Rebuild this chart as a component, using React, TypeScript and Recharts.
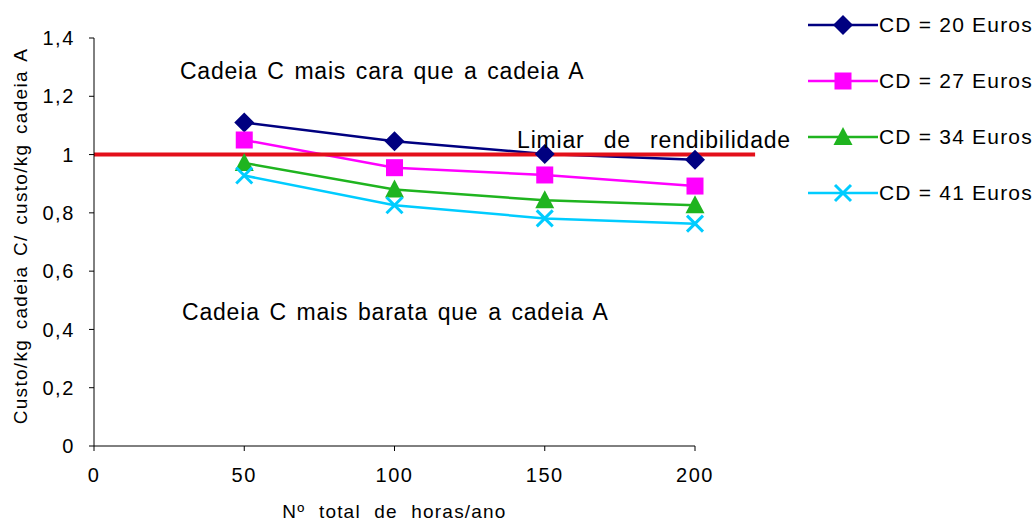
import { LineChart, Line, XAxis, YAxis, ReferenceLine, ReferenceDot } from 'recharts';

const hours = [50, 100, 150, 200];
const cd20 = [1.11, 1.046, 1.002, 0.982];
const cd27 = [1.05, 0.955, 0.93, 0.892];
const cd34 = [0.971, 0.88, 0.843, 0.826];
const cd41 = [0.928, 0.826, 0.781, 0.763];

const xTicks = [0, 50, 100, 150, 200];
const yTicks = [0, 0.2, 0.4, 0.6, 0.8, 1, 1.2, 1.4];

// break-even line runs a little past the last category, like the original
const threshold = 1;
const thresholdEnd = 220;

const notes = [
  { text: 'Cadeia C mais cara que a cadeia A', x: 28.6, y: 1.289, ws: 2.5 },
  { text: 'Cadeia C mais barata que a cadeia A', x: 29.3, y: 0.459, ws: 2.5 },
  { text: 'Limiar de rendibilidade', x: 140.8, y: 1.052, ws: 12 },
];

const data = hours.map((h, i) => ({
  h,
  cd20: cd20[i],
  cd27: cd27[i],
  cd34: cd34[i],
  cd41: cd41[i],
}));

const series = [
  { key: 'cd20', name: 'CD = 20 Euros', color: '#000080', shape: 'diamond' },
  { key: 'cd27', name: 'CD = 27 Euros', color: '#FF00FF', shape: 'square' },
  { key: 'cd34', name: 'CD = 34 Euros', color: '#1FB41F', shape: 'triangle' },
  { key: 'cd41', name: 'CD = 41 Euros', color: '#00CCFF', shape: 'cross' },
];

const FONT = '"Liberation Sans", Arial, sans-serif';
const tickStyle = { fill: '#000', fontSize: 20, fontFamily: FONT, letterSpacing: 1.6 };

function Marker({ cx, cy, shape, color }: { cx: number; cy: number; shape: string; color: string }) {
  if (shape === 'diamond') {
    return <path d={`M${cx},${cy - 10}L${cx + 10},${cy}L${cx},${cy + 10}L${cx - 10},${cy}Z`} fill={color} />;
  }
  if (shape === 'square') {
    return <rect x={cx - 8.5} y={cy - 8.5} width={17} height={17} fill={color} />;
  }
  if (shape === 'triangle') {
    return <path d={`M${cx},${cy - 10}L${cx + 9.5},${cy + 8}L${cx - 9.5},${cy + 8}Z`} fill={color} />;
  }
  return (
    <path
      d={`M${cx - 8},${cy - 8}L${cx + 8},${cy + 8}M${cx + 8},${cy - 8}L${cx - 8},${cy + 8}`}
      stroke={color}
      strokeWidth={3}
      fill="none"
    />
  );
}

function ChartLegend() {
  return (
    <div style={{ position: 'absolute', left: 808, top: -3, fontFamily: FONT, fontSize: 21, letterSpacing: 1.2 }}>
      {series.map((s) => (
        <div key={s.key} style={{ height: 56, display: 'flex', alignItems: 'center' }}>
          <svg width={70} height={24} style={{ display: 'block' }}>
            <line x1={0} y1={12} x2={70} y2={12} stroke={s.color} strokeWidth={2.5} />
            <Marker cx={35} cy={12} shape={s.shape} color={s.color} />
          </svg>
          <span style={{ marginLeft: 1, color: '#000', whiteSpace: 'nowrap' }}>{s.name}</span>
        </div>
      ))}
    </div>
  );
}

function YTitle({ viewBox }: any) {
  const x = viewBox.x + 20;
  const y = viewBox.y + viewBox.height / 2 - 6;
  return (
    <text
      x={x}
      y={y}
      transform={`rotate(-90, ${x}, ${y})`}
      textAnchor="middle"
      dominantBaseline="central"
      fontFamily={FONT}
      fontSize={19}
      letterSpacing={1.3}
      wordSpacing={3}
      fill="#000"
    >
      Custo/kg cadeia C/ custo/kg cadeia A
    </text>
  );
}

const fmt = (v: number) => String(Number(v.toFixed(1))).replace('.', ',');

export default function App() {
  return (
    <div style={{ position: 'absolute', left: 0, top: 0, width: 1035, height: 524, fontFamily: FONT }}>
      <LineChart width={1035} height={524} data={data} margin={{ top: 38, right: 340, left: 0, bottom: 0 }}>
        <XAxis
          dataKey="h"
          type="number"
          domain={[0, 200]}
          ticks={xTicks}
          height={78}
          tickSize={5}
          tickMargin={17}
          stroke="#000"
          tick={tickStyle}
          label={{
            value: 'Nº total de horas/ano',
            position: 'insideBottom',
            offset: 6,
            fill: '#000',
            fontSize: 19,
            fontFamily: FONT,
            letterSpacing: 1.2,
            wordSpacing: 7,
          }}
        />
        <YAxis
          type="number"
          domain={[0, 1.4]}
          ticks={yTicks}
          width={94}
          tickSize={5}
          tickMargin={14}
          stroke="#000"
          tickFormatter={fmt}
          tick={tickStyle}
          label={<YTitle />}
        />
        {series.map((s) => (
          <Line
            key={s.key}
            dataKey={s.key}
            name={s.name}
            stroke={s.color}
            strokeWidth={2.5}
            isAnimationActive={false}
            dot={(p: any) => <Marker key={`${s.key}-${p.index}`} cx={p.cx} cy={p.cy} shape={s.shape} color={s.color} />}
          />
        ))}
        <ReferenceLine
          segment={[{ x: 0, y: threshold }, { x: thresholdEnd, y: threshold }]}
          ifOverflow="visible"
          stroke="#E3101A"
          strokeWidth={4}
        />
        {notes.map((n) => (
          <ReferenceDot
            key={n.text}
            x={n.x}
            y={n.y}
            r={0}
            fill="none"
            stroke="none"
            ifOverflow="visible"
            label={{
              value: n.text,
              position: 'right',
              offset: 0,
              fill: '#000',
              fontSize: 23,
              fontFamily: FONT,
              letterSpacing: 0.8,
              wordSpacing: n.ws,
            }}
          />
        ))}
      </LineChart>
      <ChartLegend />
    </div>
  );
}
